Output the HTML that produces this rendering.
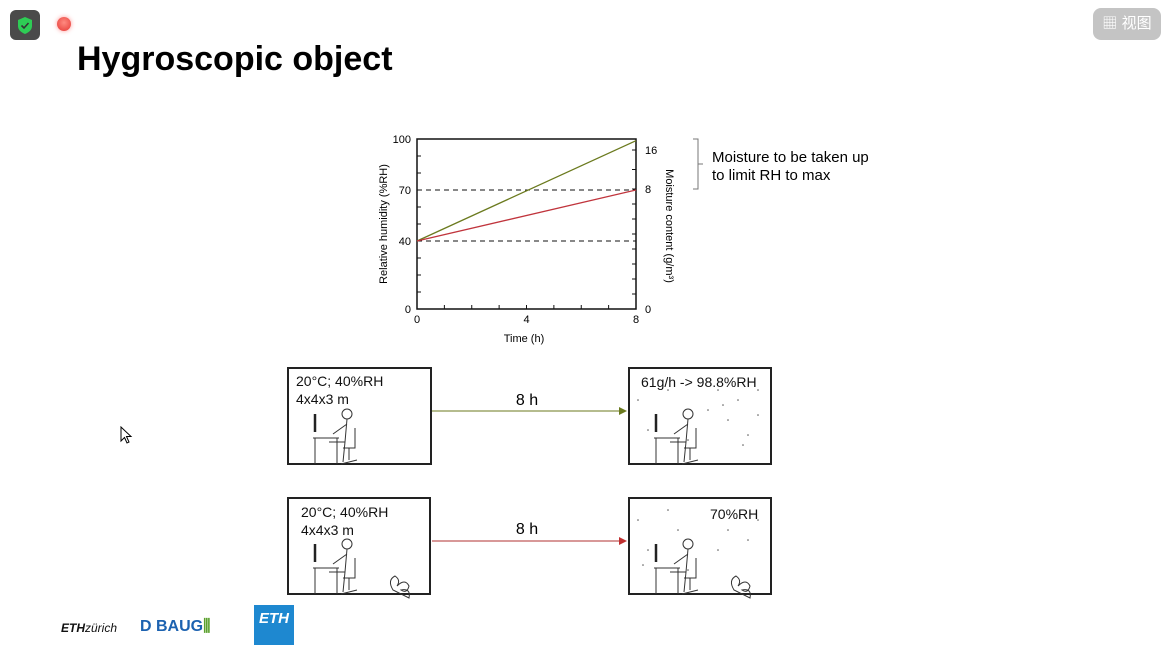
<!DOCTYPE html>
<html><head><meta charset="utf-8"><style>
body{margin:0;width:1171px;height:656px;background:#fff;position:relative;overflow:hidden;font-family:"Liberation Sans","Noto Sans CJK SC",sans-serif}
.abs{position:absolute}
.box{position:absolute;border:2px solid #222;box-sizing:border-box;background:#fff}
.bt{position:absolute;font-size:14px;color:#111;line-height:18px}
</style></head><body>
<div class="abs" style="left:10px;top:10px;width:30px;height:30px;background:#4a4a4a;border-radius:6px">
<svg width="30" height="30"><path d="M15 7 L22 10 L22 16 Q22 21 15 24 Q8 21 8 16 L8 10 Z" fill="#2ecc55"/><path d="M11.5 15.5 L14 18 L18.5 13" stroke="#333" stroke-width="1.6" fill="none"/></svg></div>
<div class="abs" style="left:57px;top:17px;width:14px;height:14px;border-radius:50%;background:radial-gradient(circle at 50% 40%,#ff8a80,#e53935);box-shadow:0 0 5px #f99"></div>
<div class="abs" style="left:1093px;top:8px;width:68px;height:32px;background:#c4c4c4;border-radius:8px;color:#fff;font-size:15px;line-height:32px;text-align:center">▦ 视图</div>
<div class="abs" style="left:77px;top:40px;font-size:34px;font-weight:bold;color:#000">Hygroscopic object</div>

<svg class="abs" style="left:0;top:0" width="1171" height="360" id="chart"></svg>

<div class="box" style="left:287px;top:367px;width:145px;height:98px"></div>
<div class="bt" style="left:296px;top:372px">20°C; 40%RH<br>4x4x3 m</div>
<div class="box" style="left:628px;top:367px;width:144px;height:98px"></div>
<div class="bt" style="left:641px;top:373px">61g/h -&gt; 98.8%RH</div>
<div class="box" style="left:287px;top:497px;width:144px;height:98px"></div>
<div class="bt" style="left:301px;top:503px">20°C; 40%RH<br>4x4x3 m</div>
<div class="box" style="left:628px;top:497px;width:144px;height:98px"></div>
<div class="bt" style="left:710px;top:505px">70%RH</div>

<svg class="abs" style="left:0;top:360px" width="1171" height="296" id="ill">
<line x1="432" y1="51" x2="619" y2="51" stroke="#6b7a1e" stroke-width="1"/><path d="M619 47 L627 51 L619 55Z" fill="#6b7a1e"/>
<line x1="432" y1="181" x2="619" y2="181" stroke="#b03030" stroke-width="1"/><path d="M619 177 L627 181 L619 185Z" fill="#c03030"/>
<text x="527" y="45" font-size="16" text-anchor="middle" font-family="Liberation Sans">8 h</text>
<text x="527" y="174" font-size="16" text-anchor="middle" font-family="Liberation Sans">8 h</text>
</svg>

<svg class="abs" style="left:120px;top:426px" width="14" height="20"><path d="M1 1 L1 15 L4.5 11.5 L7 17 L9 16 L6.5 10.5 L11 10.5Z" fill="#fff" stroke="#000"/></svg>

<div class="abs" style="left:61px;top:621px;font-size:12px;color:#111"><b><i>ETH</i></b><i>zürich</i></div>
<div class="abs" style="left:140px;top:618px;font-size:16px;color:#1c62b0;font-weight:bold">D BAUG<span style="color:#5aa02c">⫼</span></div>
<div class="abs" style="left:254px;top:605px;width:40px;height:40px;background:#1e88d0;color:#fff;font-weight:bold;font-style:italic;font-size:15px;text-align:center;line-height:28px">ETH</div>

<script>
const rhTicks=[0,10,20,30,40,50,60,70,80,90,100];
const rhLabels=[0,40,70,100];
const timeTicks=[0,1,2,3,4,5,6,7,8];
const timeLabels=[0,4,8];
const mcTicks=[0,1,2,3,4,5,6,7,8,12,16];
const mcLabels=[0,8,16];
const seriesTime=[0,8];
const seriesNoBuffer=[40,99];
const seriesBuffer=[40,70];
const refLines=[40,70];

const X0=417,X1=636,Y0=309,Y1=139;
const sx=t=>X0+(t/8)*(X1-X0);
const sy=v=>Y0-(v/100)*(Y0-Y1);
const smc=m=>m<=8?Y0-m*15:189-(m-8)*(39/8);
const svg=document.getElementById('chart');
const NS='http://www.w3.org/2000/svg';
function mk(tag,attrs,txt){const e=document.createElementNS(NS,tag);for(const k in attrs)e.setAttribute(k,attrs[k]);if(txt!==undefined)e.textContent=txt;svg.appendChild(e);return e;}
let e;
e=mk('rect',{x:X0,y:Y1,width:X1-X0,height:Y0-Y1,fill:'none',stroke:'#111','stroke-width':1.5});


refLines.forEach(v=>{e=mk('line',{x1:X0,x2:X1,y1:sy(v),y2:sy(v),stroke:'#111','stroke-dasharray':'5,4'});

});
rhTicks.forEach(v=>{e=mk('line',{x1:X0,x2:X0+4,y1:sy(v),y2:sy(v),stroke:'#111'});

});
rhLabels.forEach(v=>{e=mk('text',{x:X0-6,y:sy(v)+4,'font-size':11,'text-anchor':'end','font-family':'Liberation Sans'},v);

});
timeTicks.forEach(t=>{e=mk('line',{x1:sx(t),x2:sx(t),y1:Y0,y2:Y0-4,stroke:'#111'});

});
timeLabels.forEach(t=>{e=mk('text',{x:sx(t),y:Y0+14,'font-size':11,'text-anchor':'middle','font-family':'Liberation Sans'},t);

});
mcTicks.forEach(m=>{e=mk('line',{x1:X1,x2:X1-4,y1:smc(m),y2:smc(m),stroke:'#111'});

});
mcLabels.forEach(m=>{e=mk('text',{x:X1+9,y:smc(m)+4,'font-size':11,'font-family':'Liberation Sans'},m);

});
e=mk('polyline',{points:seriesTime.map((t,i)=>sx(t)+','+sy(seriesNoBuffer[i])).join(' '),fill:'none',stroke:'#6b7a1e','stroke-width':1.3});


e=mk('polyline',{points:seriesTime.map((t,i)=>sx(t)+','+sy(seriesBuffer[i])).join(' '),fill:'none',stroke:'#c0343c','stroke-width':1.3});


e=mk('text',{x:524,y:342,'font-size':11,'text-anchor':'middle','font-family':'Liberation Sans'},'Time (h)');


e=mk('text',{x:0,y:0,'font-size':11,'text-anchor':'middle','font-family':'Liberation Sans',transform:'translate(387,224) rotate(-90)'},'Relative humidity (%RH)');


e=mk('text',{x:0,y:0,'font-size':11,'text-anchor':'middle','font-family':'Liberation Sans',transform:'translate(666,226) rotate(90)'},'Moisture content (g/m³)');


e=mk('path',{d:'M693 139 H698 V189 H693 M698 164 H703',fill:'none',stroke:'#777'});


e=mk('text',{x:712,y:162,'font-size':15,'font-family':'Liberation Sans'},'Moisture to be taken up');


e=mk('text',{x:712,y:180,'font-size':15,'font-family':'Liberation Sans'},'to limit RH to max');



const ill=document.getElementById('ill');
function person(x,y,plant,dots,dx,dy){
 let s='';
 s+=`<line x1="${x}" y1="${y-6}" x2="${x}" y2="${y+12}" stroke="#222" stroke-width="2.5"/>`;
 s+=`<path d="M${x-2} ${y+18} H${x+24} M${x} ${y+18} V${y+44} M${x+22} ${y+18} V${y+44}" stroke="#333" fill="none"/>`;
 s+=`<circle cx="${x+32}" cy="${y-6}" r="5" fill="none" stroke="#333"/>`;
 s+=`<path d="M${x+32} ${y-1} L${x+30} ${y+22} L${x+14} ${y+22} M${x+30} ${y+22} L${x+28} ${y+42} M${x+32} ${y+4} L${x+18} ${y+14}" stroke="#333" fill="none"/>`;
 s+=`<path d="M${x+40} ${y+8} V${y+28} H${x+28} M${x+34} ${y+28} V${y+40} M${x+26} ${y+44} L${x+42} ${y+40}" stroke="#333" fill="none"/>`;
 if(plant) s+=`<path d="M${x+78} ${y+40} q-6 -10 2 -14 q6 4 2 10 q8 -8 12 0 q-2 8 -8 4 q10 -2 8 8 z" fill="none" stroke="#333"/>`;
 ill.insertAdjacentHTML('beforeend',s);
 dots.forEach(d=>ill.insertAdjacentHTML('beforeend',`<circle cx="${dx+d[0]}" cy="${dy+d[1]}" r="0.8" fill="#555"/>`));
}
person(315,60,false,[],0,0);
person(656,60,false,[[10,40],[20,70],[40,30],[80,50],[90,30],[100,60],[110,40],[120,75],[130,30],[60,80],[115,85],[95,45],[130,55]],628,0);
person(315,190,true,[],0,0);
person(656,190,true,[[10,30],[20,60],[40,20],[50,40],[90,60],[100,40],[120,50],[130,30],[60,80],[15,75]],628,130);
</script>
</body></html>
